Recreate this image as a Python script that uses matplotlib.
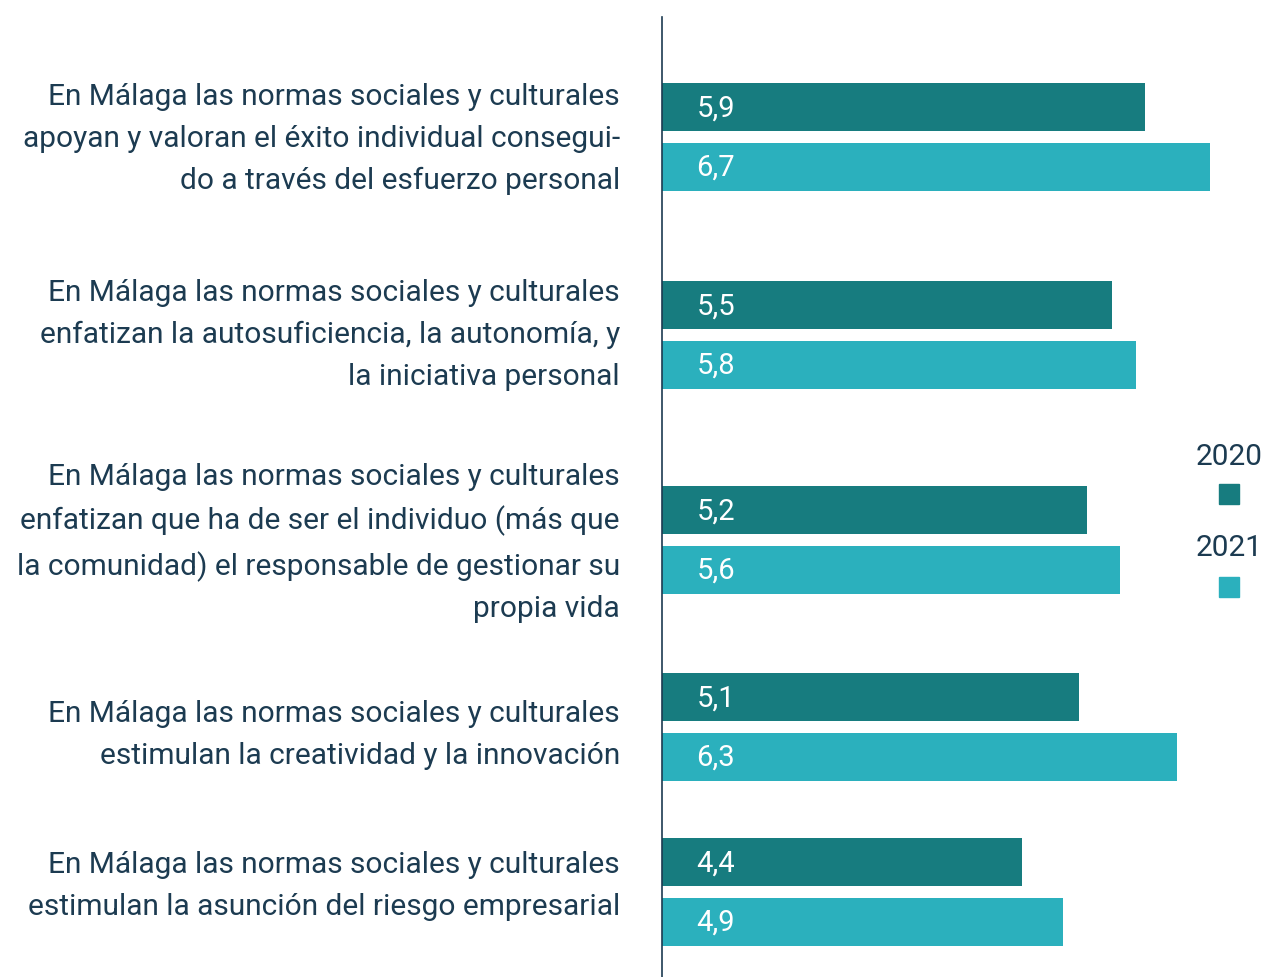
import matplotlib as mpl
import matplotlib.pyplot as plt
from matplotlib.patches import Rectangle

mpl.rcParams.update({
    "font.family": ["Roboto", "DejaVu Sans"],
})

categories = [
    "En Málaga las normas sociales y culturales\napoyan y valoran el éxito individual consegui-\ndo a través del esfuerzo personal",
    "En Málaga las normas sociales y culturales\nenfatizan la autosuficiencia, la autonomía, y\nla iniciativa personal",
    "En Málaga las normas sociales y culturales\nenfatizan que ha de ser el individuo (más que\nla comunidad) el responsable de gestionar su\npropia vida",
    "En Málaga las normas sociales y culturales\nestimulan la creatividad y la innovación",
    "En Málaga las normas sociales y culturales\nestimulan la asunción del riesgo empresarial",
]
years = ["2020", "2021"]
values_2020 = [5.9, 5.5, 5.2, 5.1, 4.4]
values_2021 = [6.7, 5.8, 5.6, 6.3, 4.9]

# group centres in pixel rows from the top of the axes (groups are not evenly spaced)
group_pos = [120, 318, 523, 710, 875]
label_pos = [122, 318, 526, 718, 869]
bar_h = 48
offset = 30

dark = "#177C7F"
light = "#2BB0BD"
text_col = "#1C3B51"

W, H = 1267, 977
fig = plt.figure(figsize=(W / 100, H / 100), dpi=100)
ax_left, ax_top = 662, 17
ax = fig.add_axes([ax_left / W, 0, (W - ax_left) / W, (H - ax_top) / H])
ax.set_xlim(0, (W - ax_left) / 81.8)
ax.set_ylim(H - ax_top, 0)

ax.barh([p - offset for p in group_pos], values_2020, height=bar_h, color=dark, align="center")
ax.barh([p + offset for p in group_pos], values_2021, height=bar_h, color=light, align="center")

for p, v in zip(group_pos, values_2020):
    ax.text(0.42, p - offset + 2, f"{v:.1f}".replace(".", ","), color="white",
            fontsize=21, va="center", ha="left")
for p, v in zip(group_pos, values_2021):
    ax.text(0.42, p + offset + 1, f"{v:.1f}".replace(".", ","), color="white",
            fontsize=21, va="center", ha="left")

for p, lab in zip(label_pos, categories):
    ax.text(-42 / 81.8, p, lab, color=text_col, fontsize=21.5, ha="right",
            va="center", linespacing=1.62, clip_on=False)

for s in ["top", "right", "bottom"]:
    ax.spines[s].set_visible(False)
ax.spines["left"].set_color(text_col)
ax.spines["left"].set_linewidth(1.2)
ax.set_xticks([])
ax.set_yticks([])

# legend: year above a small square
for yr, col, ty, sy in [(years[0], dark, 457, 494), (years[1], light, 548, 587)]:
    fig.text(1229 / W, 1 - ty / H, yr, color=text_col, fontsize=21.5, ha="center", va="center")
    fig.patches.append(Rectangle(((1229 - 10) / W, 1 - (sy + 10) / H), 20 / W, 20 / H,
                                 transform=fig.transFigure, color=col))

fig.savefig("out.png", dpi=100, facecolor="white")
